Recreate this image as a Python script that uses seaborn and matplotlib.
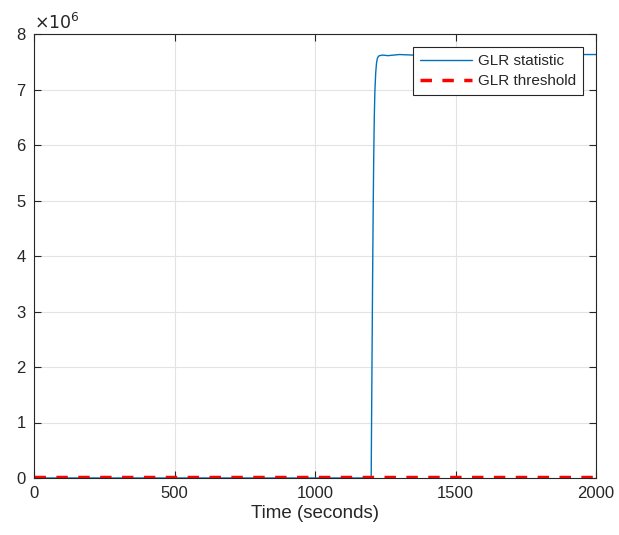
import matplotlib
matplotlib.use("Agg")
import matplotlib.pyplot as plt
import seaborn as sns
import pandas as pd
from matplotlib.ticker import FuncFormatter

# GLR statistic over time (seconds, raw values)
time_s = [0, 1199, 1200, 1201, 1203, 1205, 1207, 1209, 1211, 1213, 1216, 1219, 1222,
          1226, 1230, 1240, 1260, 1300, 1350, 1400, 1450, 1500, 1600, 1700, 1800, 1900, 2000]
glr_stat = [0, 0, 0, 0.8e6, 2.2e6, 3.6e6, 4.8e6, 5.8e6, 6.5e6, 6.95e6, 7.3e6, 7.48e6, 7.56e6,
            7.6e6, 7.61e6, 7.62e6, 7.61e6, 7.63e6, 7.62e6, 7.63e6, 7.64e6, 7.63e6, 7.64e6,
            7.63e6, 7.64e6, 7.63e6, 7.63e6]

# Detection threshold
thr_time = [0, 2000]
glr_threshold = [1.0e4, 1.0e4]

x_ticks = [0, 500, 1000, 1500, 2000]
y_ticks = [0, 1e6, 2e6, 3e6, 4e6, 5e6, 6e6, 7e6, 8e6]

sns.set_style("whitegrid")
plt.rcParams["font.family"] = ["Liberation Sans", "DejaVu Sans"]

fig = plt.figure(figsize=(6.19, 5.35), dpi=100)
ax = fig.add_axes([34 / 619, 57 / 535, 562 / 619, 444 / 535])

stat_df = pd.DataFrame({"t": time_s, "v": glr_stat})
thr_df = pd.DataFrame({"t": thr_time, "v": glr_threshold})

sns.lineplot(data=stat_df, x="t", y="v", ax=ax, color="#0072BD", linewidth=1.0,
             label="GLR statistic")
sns.lineplot(data=thr_df, x="t", y="v", ax=ax, color="#FF0000", linewidth=2.5,
             dashes=False, label="GLR threshold")
ax.lines[-1].set_linestyle((0, (3.3, 3.0)))

ax.set_xlim(0, 2000)
ax.set_ylim(0, 8e6)
ax.set_xticks(x_ticks)
ax.set_yticks(y_ticks)
ax.yaxis.set_major_formatter(FuncFormatter(lambda v, p: f"{v / 1e6:g}"))

ax.grid(True, color="#e3e3e3", linewidth=0.8)
for s in ax.spines.values():
    s.set_visible(True)
    s.set_color("#262626")
    s.set_linewidth(0.8)

ax.tick_params(direction="in", length=5, width=0.8, colors="#262626",
               labelsize=12, top=True, right=True, bottom=True, left=True,
               labelcolor="#262626", pad=6)

ax.set_xlabel("Time (seconds)", fontsize=13.5, color="#262626", labelpad=3)
ax.set_ylabel("")

ax.text(0.0, 1.004, r"$\times10^{6}$", transform=ax.transAxes, fontsize=12.5,
        color="#262626", ha="left", va="bottom")

leg = ax.legend(loc="upper right", fontsize=11, frameon=True, fancybox=False,
                edgecolor="#262626", framealpha=1, borderpad=0.45,
                handlelength=3.4, handletextpad=0.4, labelspacing=0.42,
                borderaxespad=0.85)
leg.get_frame().set_linewidth(0.8)

fig.savefig("out.png", dpi=100, facecolor="white")
